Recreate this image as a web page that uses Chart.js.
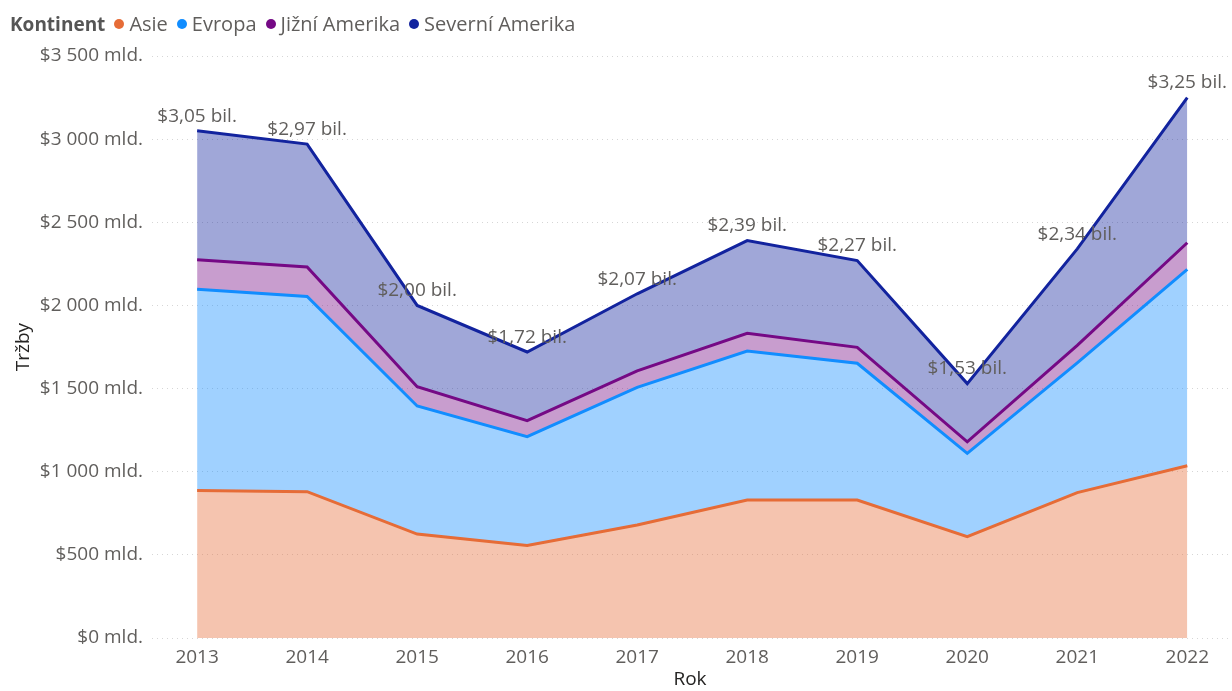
<!DOCTYPE html>
<html>
<head>
<meta charset="utf-8">
<script src="https://cdn.jsdelivr.net/npm/chart.js@4"></script>
<style>
  body { margin: 0; background: #fff; font-family: "Open Sans", sans-serif; }
  #wrap { position: relative; width: 1232px; height: 691px; }
  #legend { position: absolute; left: 10px; top: 10px; font-size: 20px; color: #605E5C;
            display: flex; align-items: center; white-space: nowrap; line-height: 28px; }
  #legend .title { font-weight: bold; font-size: 19px; color: #555; margin-right: 9px; }
  #legend .item { display: flex; align-items: center; margin-right: 9px; }
  #legend .dot { width: 10px; height: 10px; border-radius: 50%; margin-right: 5px; }
</style>
</head>
<body>
<div id="wrap">
  <canvas id="areaChart" width="1232" height="691"></canvas>
  <div id="legend"></div>
</div>
<script>
// Data (mld. $)
const years = [2013, 2014, 2015, 2016, 2017, 2018, 2019, 2020, 2021, 2022];
const asie = [887, 880, 625, 556, 680, 830, 830, 609, 874, 1036];
const evropa = [1211, 1174, 770, 655, 827, 896, 822, 501, 781, 1181];
const jizniAmerika = [177, 177, 116, 96, 100, 106, 96, 70, 105, 160];
const severniAmerika = [775, 739, 489, 413, 463, 558, 522, 350, 580, 873];
const seriesNames = ['Asie', 'Evropa', 'Jižní Amerika', 'Severní Amerika'];
const yTicks = [0, 500, 1000, 1500, 2000, 2500, 3000, 3500];

const lineColors = ['#E66C37', '#118DFF', '#750985', '#12239E'];
const fillColors = ['rgba(230,108,55,0.4)', 'rgba(17,141,255,0.4)', 'rgba(117,9,133,0.4)', 'rgba(18,35,158,0.4)'];
const allSeries = [asie, evropa, jizniAmerika, severniAmerika];

const totals = years.map((y, i) => allSeries.reduce((s, arr) => s + arr[i], 0));

// legend
const legend = document.getElementById('legend');
legend.innerHTML = '<span class="title">Kontinent</span>' + seriesNames.map((n, i) =>
  '<span class="item"><span class="dot" style="background:' + lineColors[i] + '"></span>' + n + '</span>').join('');

function fmtMld(v) {
  return '$' + String(v).replace(/\B(?=(\d{3})+(?!\d))/g, ' ') + ' mld.';
}
function fmtBil(v) {
  return '$' + (v / 1000).toFixed(2).replace('.', ',') + ' bil.';
}

const totalLabels = {
  id: 'totalLabels',
  afterDatasetsDraw(chart) {
    const meta = chart.getDatasetMeta(chart.data.datasets.length - 1);
    const ctx = chart.ctx;
    ctx.save();
    ctx.font = '19px "Open Sans"';
    ctx.fillStyle = '#605E5C';
    ctx.textAlign = 'center';
    ctx.textBaseline = 'bottom';
    meta.data.forEach((pt, i) => {
      ctx.fillText(fmtBil(totals[i]), pt.x, pt.y - 5);
    });
    ctx.restore();
  }
};

const ctx = document.getElementById('areaChart').getContext('2d');
const areaChart = new Chart(ctx, {
  type: 'line',
  data: {
    datasets: allSeries.map((arr, i) => ({
      label: seriesNames[i],
      data: arr.map((v, j) => ({ x: years[j], y: v })),
      borderColor: lineColors[i],
      backgroundColor: fillColors[i],
      borderWidth: 3,
      pointRadius: 0,
      tension: 0,
      fill: i === 0 ? 'origin' : '-1'
    }))
  },
  options: {
    responsive: false,
    animation: false,
    layout: { padding: { top: 56, right: 4, left: 0, bottom: 0 } },
    plugins: { legend: { display: false }, tooltip: { enabled: false } },
    scales: {
      x: {
        type: 'linear',
        min: 2012.59,
        max: 2022.37,
        grid: { display: false, drawTicks: false },
        border: { display: false },
        ticks: {
          stepSize: 1,
          includeBounds: false,
          padding: 8,
          color: '#605E5C',
          font: { family: 'Open Sans', size: 19 },
          callback: v => String(v)
        },
        title: { display: true, text: 'Rok', color: '#252423', font: { family: 'Open Sans', size: 19 }, padding: { top: 0, bottom: 0 } },
        afterFit(scale) { scale.height = 53; }
      },
      y: {
        stacked: true,
        min: 0,
        max: 3500,
        afterBuildTicks(scale) { scale.ticks = yTicks.map(v => ({ value: v })); },
        grid: { color: '#d6d6d6', drawTicks: false, lineWidth: 1 },
        border: { display: false, dash: [1, 4] },
        ticks: {
          padding: 9,
          color: '#605E5C',
          font: { family: 'Open Sans', size: 19 },
          callback: v => fmtMld(v)
        },
        title: { display: true, text: 'Tržby', color: '#252423', font: { family: 'Open Sans', size: 19 }, padding: { top: 12, bottom: 0 } },
        afterFit(scale) { scale.width = 152; }
      }
    }
  },
  plugins: [totalLabels]
});
</script>
</body>
</html>
